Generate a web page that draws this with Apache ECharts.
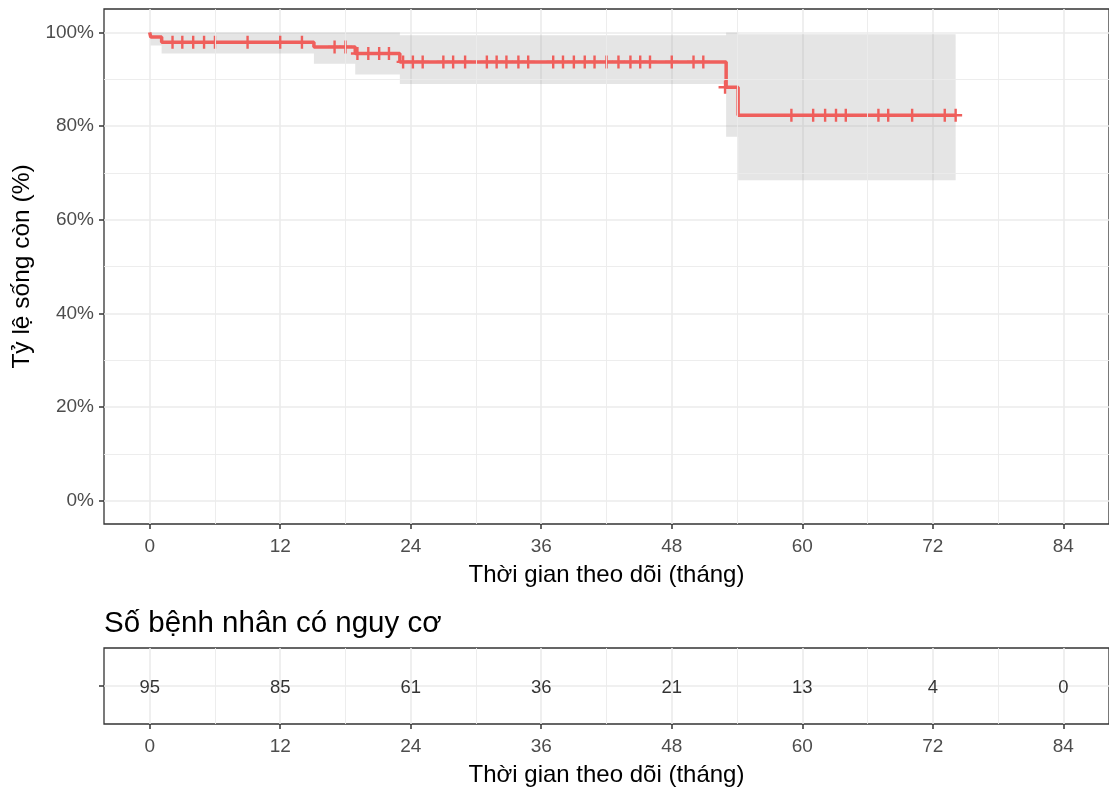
<!DOCTYPE html>
<html><head><meta charset="utf-8">
<script src="https://cdn.jsdelivr.net/npm/echarts@6/dist/echarts.min.js"></script>
<style>html,body{margin:0;padding:0;background:#fff}#c{width:1109px;height:790px}</style>
</head><body><div id="c"></div>
<script>
// Kaplan-Meier step values (time in months, survival %)
const stepTimes = [0, 0.1, 1.1, 15.1, 18.9, 23.0, 53.0, 54.1];
const stepSurv  = [100, 99.0, 97.9, 96.9, 95.5, 93.7, 88.3, 82.3];
const lastTime  = 74.1;
// Confidence band per step interval
const ciLower = [100, 97.2, 95.5, 93.3, 91.0, 89.0, 77.7, 68.4];
const ciUpper = [100, 100, 100, 100, 100, 99.4, 100, 99.6];
// Censored observations
const censorTimes = [2.1, 3.0, 4.0, 5.0, 6.0, 9.0, 12.0, 14.0,
  17.0, 18.0,
  19.1, 20.1, 21.1, 22.0,
  23.3, 24.2, 25.1, 27.0, 27.9, 29.0, 31.0, 31.9, 32.8, 33.9, 34.8, 37.1, 38.0, 39.0, 40.0, 40.9, 42.0, 43.1, 44.2, 45.1, 46.0, 48.0, 50.0, 50.9,
  52.9,
  59.0, 61.0, 62.1, 63.1, 64.0, 67.0, 67.9, 70.1, 73.1, 74.1];
const censorSurv = [97.9, 97.9, 97.9, 97.9, 97.9, 97.9, 97.9, 97.9,
  96.9, 96.9,
  95.5, 95.5, 95.5, 95.5,
  93.7, 93.7, 93.7, 93.7, 93.7, 93.7, 93.7, 93.7, 93.7, 93.7, 93.7, 93.7, 93.7, 93.7, 93.7, 93.7, 93.7, 93.7, 93.7, 93.7, 93.7, 93.7, 93.7, 93.7,
  88.3,
  82.3, 82.3, 82.3, 82.3, 82.3, 82.3, 82.3, 82.3, 82.3, 82.3];
// Number at risk table
const riskTimes  = [0, 12, 24, 36, 48, 60, 72, 84];
const riskCounts = [95, 85, 61, 36, 21, 13, 4, 0];
// Axis ticks
const xTicks = [0, 12, 24, 36, 48, 60, 72, 84];
const yTicks = [0, 20, 40, 60, 80, 100];
const xLabelName = 'Thời gian theo dõi (tháng)';
const yLabelName = 'Tỷ lệ sống còn (%)';
const riskTitle = 'Số bệnh nhân có nguy cơ';

const FONT = 'Liberation Sans, Arial, Helvetica, sans-serif';
const RED = '#EF5F5C';
const GRID = '#EBEBEB';

const xMinor = xTicks.slice(0, -1).map((v, i) => (v + xTicks[i + 1]) / 2);
const yMinor = yTicks.slice(0, -1).map((v, i) => (v + yTicks[i + 1]) / 2);

const curveData = stepTimes.map((t, i) => [t, stepSurv[i]]);
curveData.push([lastTime, stepSurv[stepSurv.length - 1]]);
const censorData = censorTimes.map((t, i) => [t, censorSurv[i]]);
const riskData = riskTimes.map((t, i) => [t, 1, riskCounts[i]]);

function xAxisCfg(gridIndex) {
  return {
    type: 'value', gridIndex, min: -4.2, max: 88.2,
    axisLine: { show: false, onZero: false },
    axisTick: { show: true, inside: false, length: 5, customValues: xTicks, lineStyle: { color: '#333', width: 1.5 } },
    axisLabel: { customValues: xTicks, margin: 13, fontSize: 19, color: '#4D4D4D', fontFamily: FONT },
    splitLine: { show: true, lineStyle: { color: GRID, width: 1.6 } },
    name: xLabelName, nameLocation: 'middle', nameGap: 39,
    nameTextStyle: { fontSize: 24, color: '#000', fontFamily: FONT }
  };
}

const chart = echarts.init(document.getElementById('c'), null, { renderer: 'canvas' });
chart.setOption({
  animation: false,
  backgroundColor: '#fff',
  title: {
    text: riskTitle, left: 104, top: 609, padding: 0,
    textStyle: { fontSize: 29.5, fontWeight: 'normal', color: '#000', fontFamily: FONT }
  },
  grid: [
    { left: 104, top: 9, width: 1005, height: 515, show: true, borderColor: '#333', borderWidth: 1.3, backgroundColor: 'transparent' },
    { left: 104, top: 648, width: 1005, height: 76, show: true, borderColor: '#333', borderWidth: 1.3, backgroundColor: 'transparent' }
  ],
  xAxis: [xAxisCfg(0), xAxisCfg(1)],
  yAxis: [
    {
      type: 'value', gridIndex: 0, min: -5, max: 105,
      axisLine: { show: false, onZero: false },
      axisTick: { show: true, inside: false, length: 5, customValues: yTicks, lineStyle: { color: '#333', width: 1.5 } },
      axisLabel: { customValues: yTicks, margin: 10, fontSize: 19, color: '#4D4D4D', fontFamily: FONT, formatter: v => v + '%' },
      splitLine: { show: true, lineStyle: { color: GRID, width: 1.6 } },
      name: yLabelName, nameLocation: 'middle', nameGap: 69,
      nameTextStyle: { fontSize: 24.5, color: '#000', fontFamily: FONT }
    },
    {
      type: 'value', gridIndex: 1, min: 0, max: 2,
      axisLine: { show: false, onZero: false },
      axisTick: { show: true, inside: false, length: 5, customValues: [1], lineStyle: { color: '#333', width: 1.5 } },
      axisLabel: { customValues: [1], formatter: () => '' },
      splitLine: { show: true, lineStyle: { color: GRID, width: 1.6 } }
    }
  ],
  series: [
    {
      type: 'line', xAxisIndex: 0, yAxisIndex: 0, data: [], z: 1, silent: true,
      markLine: {
        silent: true, symbol: 'none', label: { show: false }, animation: false,
        lineStyle: { color: GRID, width: 0.9, type: 'solid' },
        data: xMinor.map(v => ({ xAxis: v })).concat(yMinor.map(v => ({ yAxis: v })))
      }
    },
    {
      type: 'line', xAxisIndex: 1, yAxisIndex: 1, data: [], z: 1, silent: true,
      markLine: {
        silent: true, symbol: 'none', label: { show: false }, animation: false,
        lineStyle: { color: GRID, width: 0.9, type: 'solid' },
        data: xMinor.map(v => ({ xAxis: v }))
      }
    },
    {
      type: 'custom', xAxisIndex: 0, yAxisIndex: 0, z: 2, silent: true,
      data: [[0, 0]],
      renderItem: function (params, api) {
        const pts = [];
        const n = stepTimes.length;
        for (let i = 0; i < n; i++) {
          const t1 = i < n - 1 ? stepTimes[i + 1] : lastTime;
          pts.push(api.coord([stepTimes[i], ciUpper[i]]));
          pts.push(api.coord([t1, ciUpper[i]]));
        }
        for (let i = n - 1; i >= 0; i--) {
          const t1 = i < n - 1 ? stepTimes[i + 1] : lastTime;
          pts.push(api.coord([t1, ciLower[i]]));
          pts.push(api.coord([stepTimes[i], ciLower[i]]));
        }
        return { type: 'polygon', shape: { points: pts }, style: { fill: 'rgba(150,150,150,0.25)' } };
      }
    },
    {
      type: 'line', xAxisIndex: 0, yAxisIndex: 0, z: 3, step: 'end', showSymbol: false,
      data: curveData, lineStyle: { color: RED, width: 3.5 }
    },
    {
      type: 'scatter', xAxisIndex: 0, yAxisIndex: 0, z: 4,
      symbol: 'path://M5,0L5,10M0,5L10,5', symbolSize: 13,
      itemStyle: { color: 'rgba(0,0,0,0)', borderColor: RED, borderWidth: 2.4, opacity: 1 },
      data: censorData
    },
    {
      type: 'scatter', xAxisIndex: 1, yAxisIndex: 1, z: 4, symbolSize: 0,
      data: riskData,
      label: { show: true, position: 'inside', offset: [0, 1.5], formatter: p => String(p.value[2]), fontSize: 18.5, color: '#000', fontFamily: FONT }
    }
  ]
});
</script></body></html>
